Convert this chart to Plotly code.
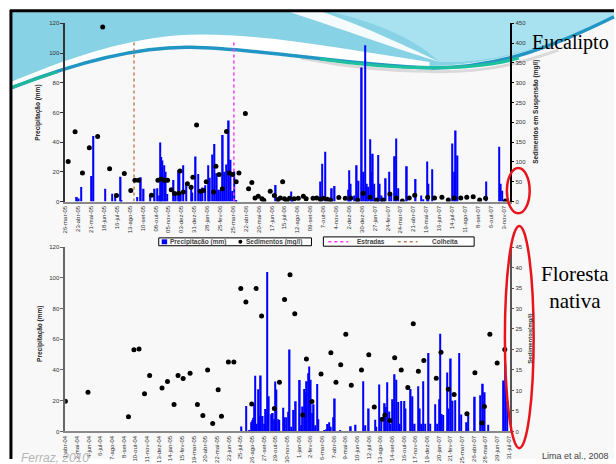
import pandas as pd
import plotly.graph_objects as go

W, H = 616, 464

# ---------------- DATA ----------------
# Eucalipto (top chart); days counted from 26-mar-2005
top_ref = "2005-03-26"
top_rain_day = [25, 29, 34, 57, 61, 86, 102, 108, 120, 122, 156, 164, 170, 184, 194, 200, 204, 206, 208, 211,
                215, 218, 221, 235, 240, 246, 248, 251, 256, 263, 273, 276, 283, 289, 294, 298, 304, 310, 314, 319,
                324, 329, 333, 337, 342, 346, 350, 355, 359, 362, 367, 371, 457, 462, 491, 494, 554, 558, 565, 579,
                585, 615, 617, 620, 627, 633, 637, 644, 648, 651, 655, 658, 662, 665, 668, 671, 680, 683, 687, 696,
                703, 708, 716, 719, 723, 742, 761, 773, 778, 786, 789, 797, 841, 845, 848, 852, 914, 942, 946, 949]
top_rain_mm = [3.1, 2, 9.7, 17.1, 44.2, 8.6, 5.3, 5.3, 16.7, 1, 3.1, 16.3, 8.6, 4.3, 8.6, 9, 4, 39.8, 30, 27.7,
               24.4, 20, 5, 14.5, 6, 21.1, 21, 5, 24.4, 12, 9.5, 6, 30.3, 18.5, 6, 9.5, 11, 24.4, 16, 31.6,
               38.7, 19, 8, 8, 44.8, 20, 25, 54.5, 28.1, 7, 20.4, 1, 11.2, 2, 6.8, 1, 13.4, 25.5, 33.6, 9,
               10.5, 8, 21.1, 12, 4, 24.4, 14, 90.3, 20, 105.3, 12, 10, 42, 20, 32.1, 12, 31.4, 12, 4, 15.6,
               20, 5, 30.5, 42.4, 9, 23.7, 15.2, 4, 1.5, 27, 12, 21.8, 39.1, 20, 47.9, 31, 13.4, 36.9, 12, 7.3]
top_sed_day = [6, 21, 37, 52, 70, 81, 96, 111, 128, 142, 151, 159, 187, 201, 208, 215, 222, 230, 237, 246,
               249, 256, 265, 273, 277, 285, 293, 300, 306, 322, 327, 334, 341, 350, 356, 363, 371, 377, 391, 398,
               405, 412, 419, 427, 431, 445, 454, 462, 467, 472, 476, 481, 487, 497, 506, 517, 523, 538, 546, 554,
               561, 569, 576, 594, 608, 620, 635, 647, 662, 676, 690, 705, 719, 732, 747, 759, 787, 802, 818, 832,
               845, 859, 872, 886, 900, 913, 956]
top_sed_mgl = [101, 176, 72, 136, 164, 441, 83, 15, 71, 28, 54, 54, 16, 54, 57, 54, 54, 30, 20, 21,
               77, 24, 45, 36, 61, 193, 26, 28, 50, 24, 89, 68, 32, 177, 72, 68, 50, 72, 222, 32,
               48, 9, 13, 7, 3, 26, 15, 5, 9, 50, 7, 1, 8, 7, 8, 13, 7, 8, 9, 6,
               8, 6, 4, 10, 8, 9, 4, 21, 11, 4, 4, 19, 9, 1, 9, 16, 11, 9, 11, 4,
               9, 9, 11, 12, 4, 8, 1]
event_names = ["Estradas", "Colheita"]
event_day = [366, 149]
event_top_mm = [108.5, 108.5]

top_tick_labels = ["26-mar-05", "23-abr-05", "21-mai-05", "18-jun-05", "16-jul-05", "13-ago-05", "10-set-05",
                   "08-out-05", "05-nov-05", "03-dez-05", "31-dez-05", "28-jan-06", "25-fev-06", "25-mar-06",
                   "22-abr-06", "20-mai-06", "17-jun-06", "15-jul-06", "12-ago-06", "09-set-06", "7-out-06",
                   "4-nov-06", "2-dez-06", "30-dez-06", "27-jan-07", "24-fev-07", "24-mar-07", "21-abr-07",
                   "19-mai-07", "16-jun-07", "14-jul-07", "11-ago-07", "8-set-07", "6-out-07", "3-nov-07"]

# Floresta nativa (bottom chart); days counted from 1-abr-2004
bot_ref = "2004-04-01"
bot_rain_day = [483, 496, 504, 511, 513, 515, 518, 521, 525, 529, 532, 536, 541, 545, 550, 554, 558, 565, 569, 572,
                576, 579, 583, 587, 598, 601, 606, 611, 615, 620, 626, 632, 643, 646, 651, 655, 659, 662, 666, 669,
                673, 677, 681, 685, 690, 694, 710, 715, 720, 724, 728, 735, 739, 754, 783, 796, 817, 822, 832, 849,
                853, 860, 867, 876, 879, 883, 888, 891, 898, 903, 908, 912, 917, 921, 930, 933, 947, 952, 958, 967,
                972, 977, 981, 987, 996, 1001, 1014, 1019, 1026, 1028, 1032, 1036, 1047, 1051, 1057, 1062, 1069,
                1080, 1085, 1101, 1104, 1123, 1137, 1145, 1150, 1160, 1202, 1206, 1211]
bot_rain_mm = [3.2, 16.5, 1, 6, 7.3, 9, 18, 36.3, 5, 27.5, 10, 36.5, 10, 5, 14.6, 103.8, 23, 11.2, 12, 8,
               32.5, 27.3, 8, 7.5, 15.4, 9.2, 9.2, 12.8, 53.3, 3, 13.9, 19.6, 33.5, 4, 16.3, 27.7, 25.5, 32.6, 37.9, 42.2,
               33.7, 12, 17.7, 4, 30.9, 8, 1, 1.5, 4.9, 6, 3, 9.2, 21.5, 1, 3.4, 4.3, 32.6, 4, 14.9, 7.7,
               3, 30.5, 7.5, 18.3, 16, 32, 13, 5, 20.9, 37.3, 33.7, 19.2, 5, 19.8, 19.8, 15, 27.7, 23, 5, 29.4,
               15, 5, 32.6, 5, 51.1, 5, 17.7, 5, 20.9, 63.5, 11.3, 10.8, 38.4, 15, 47.5, 20, 20.3,
               51.1, 11, 6, 12.3, 22.6, 23.5, 31.1, 25.6, 4.3, 33.2, 44, 20]
bot_sed_day = [0, 62, 173, 188, 202, 217, 231, 265, 280, 298, 309, 323, 342, 362, 377, 390, 404, 419, 428, 447,
               462, 481, 495, 511, 523, 538, 573, 587, 601, 616, 629, 651, 661, 676, 701, 728, 742, 755, 769, 784,
               812, 832, 847, 869, 876, 890, 903, 921, 939, 954, 968, 983, 1017, 1030, 1050, 1066, 1101, 1123,
               1142, 1149, 1164, 1184, 1205]
bot_sed_mgl = [7.35, 9.6, 3.6, 19.95, 20.1, 9.2, 13.65, 10.6, 12.2, 6.6, 13.65, 12.9, 14.2, 6.6, 3.9, 15, 1.95, 10.2,
               3.7, 16.95, 16.95, 34.9, 31.6, 6.7, 34.9, 28.2, 5.6, 12, 32.2, 38.25, 28.7, 4, 17.7, 7.3, 14, 19.2,
               12, 16.3, 23.7, 11.3, 15, 18.7, 6, 3, 4, 2.7, 18, 15, 10.7, 26.3, 14.7, 17.3, 13, 19.35, 10.3, 9,
               4.3, 14.3, 2.1, 6.1, 23.7, 16.7, 20]

bot_tick_labels = ["1-abr-04", "3-mai-04", "4-jun-04", "6-jul-04", "7-ago-04", "8-set-04", "10-out-04",
                   "11-nov-04", "13-dez-04", "14-jan-05", "15-fev-05", "19-mar-05", "20-abr-05", "22-mai-05",
                   "23-jun-05", "25-jul-05", "26-ago-05", "27-set-05", "29-out-05", "30-nov-05", "1-jan-06",
                   "2-fev-06", "6-mar-06", "7-abr-06", "9-mai-06", "10-jun-06", "12-jul-06", "13-ago-06",
                   "14-set-06", "16-out-06", "17-nov-06", "19-dez-06", "20-jan-07", "21-fev-07", "25-mar-07",
                   "26-abr-07", "28-mai-07", "29-jun-07", "31-jul-07"]

series_names = ["Precipitação (mm)", "Sedimentos (mg/l)"]

assert len(top_rain_day) == len(top_rain_mm)
assert len(top_sed_day) == len(top_sed_mgl)
assert len(bot_rain_day) == len(bot_rain_mm)
assert len(bot_sed_day) == len(bot_sed_mgl)

# ---------------- helpers ----------------
MONTHS = {"jan": 1, "fev": 2, "mar": 3, "abr": 4, "mai": 5, "jun": 6,
          "jul": 7, "ago": 8, "set": 9, "out": 10, "nov": 11, "dez": 12}


def parse_pt(label):
    d, m, y = label.split("-")
    return pd.Timestamp(year=2000 + int(y), month=MONTHS[m], day=int(d))


def to_dates(ref, days):
    return list(pd.Timestamp(ref) + pd.to_timedelta(days, unit="D"))


def X(px):
    return px / W


def Y(py):
    return 1 - py / H


def path(cmds):
    out = []
    for c in cmds:
        if isinstance(c, str):
            out.append(c)
        else:
            out.append(f"{X(c[0]):.5f},{Y(c[1]):.5f}")
    return " ".join(out)


DAY_MS = 86400000
FONT = "Liberation Sans, Arial, sans-serif"
BLUE = "#0000ff"
EV_COLORS = ["#ff33ff", "#c0805a"]

top_rain_x = to_dates(top_ref, top_rain_day)
top_sed_x = to_dates(top_ref, top_sed_day)
bot_rain_x = to_dates(bot_ref, bot_rain_day)
bot_sed_x = to_dates(bot_ref, bot_sed_day)
event_x = to_dates(top_ref, event_day)

fig = go.Figure()

fig.add_trace(go.Bar(x=top_rain_x, y=top_rain_mm, xaxis="x", yaxis="y", width=3.4 * DAY_MS,
                     marker=dict(color=BLUE, line=dict(width=0)), name=series_names[0], showlegend=False))
fig.add_trace(go.Scatter(x=top_sed_x, y=top_sed_mgl, xaxis="x", yaxis="y2", mode="markers",
                         marker=dict(color="black", size=5), name=series_names[1], showlegend=False))
for nm, ex, top, col in zip(event_names, event_x, event_top_mm, EV_COLORS):
    fig.add_trace(go.Scatter(x=[ex, ex], y=[0, top], xaxis="x", yaxis="y", mode="lines",
                             line=dict(color=col, width=1.5, dash="dot"), name=nm, showlegend=False))

fig.add_trace(go.Bar(x=bot_rain_x, y=bot_rain_mm, xaxis="x2", yaxis="y3", width=4.2 * DAY_MS,
                     marker=dict(color=BLUE, line=dict(width=0)), name=series_names[0], showlegend=False))
fig.add_trace(go.Scatter(x=bot_sed_x, y=bot_sed_mgl, xaxis="x2", yaxis="y4", mode="markers",
                         marker=dict(color="black", size=5), name=series_names[1], showlegend=False))

xdom = [X(62.7), X(510.7)]
tick_font = dict(family=FONT, size=6, color="#333")

common_x = dict(type="date", showgrid=False, zeroline=False, showline=True, linecolor="#8a8a8a",
                linewidth=2, ticks="", tickangle=-90, tickfont=tick_font)
common_y = dict(showgrid=False, zeroline=False, showline=True, linewidth=1.5, ticks="outside",
                ticklen=3, tickwidth=1, tickfont=tick_font)

fig.update_layout(
    width=W, height=H, autosize=False,
    margin=dict(l=0, r=0, t=0, b=0),
    paper_bgcolor="white", plot_bgcolor="rgba(0,0,0,0)",
    showlegend=False,
    xaxis=dict(domain=xdom, anchor="y", range=["2005-03-25 12:00", "2007-11-16"],
               tickvals=[parse_pt(t) for t in top_tick_labels], ticktext=top_tick_labels, **common_x),
    yaxis=dict(domain=[Y(202), Y(20.7)], anchor="x", range=[0, 120], tickvals=list(range(0, 121, 20)),
               linecolor="#333", tickcolor="#333", **common_y),
    yaxis2=dict(overlaying="y", side="right", anchor="x", range=[0, 450], tickvals=list(range(0, 451, 50)),
                linecolor="black", tickcolor="black", **common_y),
    xaxis2=dict(domain=xdom, anchor="y3", range=["2004-03-31 12:00", "2007-08-02"],
                tickvals=[parse_pt(t) for t in bot_tick_labels], ticktext=bot_tick_labels, **common_x),
    yaxis3=dict(domain=[Y(436), Y(248.3)], anchor="x2", range=[0, 120], tickvals=list(range(0, 121, 20)),
                linecolor="#666", tickcolor="#666", **common_y),
    yaxis4=dict(overlaying="y3", side="right", anchor="x2", range=[0, 45], tickvals=list(range(0, 46, 5)),
                linecolor="#555", tickcolor="#555", **common_y),
)

# ---------------- slide decoration ----------------
shapes = []
shapes.append(dict(type="rect", xref="paper", yref="paper", x0=X(8), x1=X(616), y0=Y(464), y1=Y(8),
                   fillcolor="#f8f8f8", line=dict(width=0), layer="below"))
shapes.append(dict(type="path", xref="paper", yref="paper", layer="below", line=dict(width=0),
                   fillcolor="#88d2e6",
                   path=path(["M", (9, 9), "L", (616, 9), "L", (616, 14), "C", (560, 40), (500, 64), (430, 64),
                              "C", (350, 64), (260, 46), (190, 45), "C", (140, 44), (80, 60), (9, 84), "Z"])))
shapes.append(dict(type="path", xref="paper", yref="paper", layer="below", line=dict(width=0),
                   fillcolor="#a8e2f0",
                   path=path(["M", (330, 9), "L", (616, 9), "L", (616, 14), "C", (560, 40), (500, 62), (440, 60),
                              "C", (420, 40), (380, 20), (330, 9), "Z"])))
shapes.append(dict(type="path", xref="paper", yref="paper", layer="below", line=dict(width=0),
                   fillcolor="white",
                   path=path(["M", (9, 80), "C", (80, 50), (140, 32), (200, 32), "C", (270, 32), (350, 48),
                              (430, 60), "L", (430, 64), "C", (350, 63), (260, 46), (190, 45),
                              "C", (140, 44), (80, 60), (9, 84), "Z"])))
shapes.append(dict(type="path", xref="paper", yref="paper", layer="below", line=dict(width=0),
                   fillcolor="rgba(255,255,255,0.9)",
                   path=path(["M", (288, 9), "L", (322, 9), "C", (370, 26), (410, 46), (440, 60),
                              "C", (400, 48), (340, 26), (288, 9), "Z"])))
shapes.append(dict(type="path", xref="paper", yref="paper", layer="below",
                   line=dict(color="rgba(0,0,0,0.12)", width=3),
                   path=path(["M", (300, 56), "C", (350, 66), (400, 70), (440, 70), "C", (490, 70), (520, 62),
                              (560, 48)])))
shapes.append(dict(type="path", xref="paper", yref="paper", layer="below",
                   line=dict(color="#2196c4", width=3.5),
                   path=path(["M", (9, 86), "C", (80, 58), (140, 44), (190, 45), "C", (260, 46), (350, 64),
                              (430, 66), "C", (500, 67), (560, 42), (616, 14)])))
shapes.append(dict(type="path", xref="paper", yref="paper", layer="below",
                   line=dict(color="#1fc0a0", width=3),
                   path=path(["M", (320, 57), "C", (360, 63), (400, 66), (430, 66), "C", (470, 66), (500, 62),
                              (520, 56)])))
shapes.append(dict(type="path", xref="paper", yref="paper", layer="below",
                   line=dict(color="#20b89a", width=3),
                   path=path(["M", (9, 86), "C", (25, 80), (40, 75), (55, 70)])))
# slide border
shapes.append(dict(type="line", xref="paper", yref="paper", x0=X(7), x1=X(616), y0=Y(8), y1=Y(8),
                   line=dict(color="black", width=3)))
shapes.append(dict(type="line", xref="paper", yref="paper", x0=X(8), x1=X(8), y0=Y(7), y1=Y(464),
                   line=dict(color="black", width=3)))
# red highlight ellipses
shapes.append(dict(type="circle", xref="paper", yref="paper", x0=X(508), x1=X(531), y0=Y(214), y1=Y(168),
                   line=dict(color="#e8141c", width=2.5)))
shapes.append(dict(type="circle", xref="paper", yref="paper", x0=X(506), x1=X(535), y0=Y(453), y1=Y(227),
                   line=dict(color="#e8141c", width=2.5)))

# legend boxes (drawn as in the original slide)
shapes.append(dict(type="rect", xref="paper", yref="paper", x0=X(157), x1=X(311), y0=Y(247), y1=Y(239),
                   fillcolor="white", line=dict(color="black", width=1)))
shapes.append(dict(type="rect", xref="paper", yref="paper", x0=X(160), x1=X(165.5), y0=Y(245.5), y1=Y(240.5),
                   fillcolor=BLUE, line=dict(width=0)))
shapes.append(dict(type="circle", xref="paper", yref="paper", x0=X(237.3), x1=X(241.3), y0=Y(245), y1=Y(241),
                   fillcolor="black", line=dict(width=0)))
shapes.append(dict(type="rect", xref="paper", yref="paper", x0=X(323), x1=X(475), y0=Y(247.5), y1=Y(238),
                   fillcolor="white", line=dict(color="black", width=1)))
for (a, b), col in zip([(328, 348), (398, 418)], EV_COLORS):
    shapes.append(dict(type="line", xref="paper", yref="paper", x0=X(a), x1=X(b), y0=Y(243), y1=Y(243),
                       line=dict(color=col, width=1.5, dash="dot")))
fig.update_layout(shapes=shapes)

ann = []
leg_font = dict(family=FONT, size=6.5, color="#444")
ann.append(dict(text=f"<b>{series_names[0]}</b>", x=X(166.5), y=Y(243), xanchor="left", font=leg_font))
ann.append(dict(text=f"<b>{series_names[1]}</b>", x=X(242.5), y=Y(243), xanchor="left", font=leg_font))
ann.append(dict(text=f"<b>{event_names[0]}</b>", x=X(355), y=Y(242.5), xanchor="left", font=leg_font))
ann.append(dict(text=f"<b>{event_names[1]}</b>", x=X(430), y=Y(242.5), xanchor="left", font=leg_font))
ann.append(dict(text="<b>Precipitação (mm)</b>", x=X(35), y=Y(112), textangle=-90,
                font=dict(family=FONT, size=6.5, color="#222")))
ann.append(dict(text="<b>Precipitação (mm)</b>", x=X(37), y=Y(337), textangle=-90,
                font=dict(family=FONT, size=6.5, color="#222")))
ann.append(dict(text="<b>Sedimentos em Suspensão (mg/l)</b>", x=X(537), y=Y(111), textangle=-90,
                font=dict(family=FONT, size=6.5, color="#222")))
ann.append(dict(text="<b>Sedimentos(mg/l)</b>", x=X(531), y=Y(342), textangle=-90,
                font=dict(family=FONT, size=6, color="#333")))
ann.append(dict(text="Eucalipto", x=X(612), y=Y(40), xanchor="right", yanchor="middle", borderpad=0,
                font=dict(family="Liberation Serif, serif", size=20, color="black")))
ann.append(dict(text="Floresta<br>nativa", x=X(540), y=Y(289), xanchor="left", yanchor="middle",
                font=dict(family="Liberation Serif, serif", size=21, color="black")))
ann.append(dict(text="<i>Ferraz, 2010</i>", x=X(16), y=Y(463), xanchor="left", yanchor="middle",
                font=dict(family=FONT, size=12, color="#b5b5b5")))
ann.append(dict(text="Lima et al., 2008", x=X(541), y=Y(461), xanchor="left", yanchor="middle",
                font=dict(family=FONT, size=9, color="#444")))
for a in ann:
    a.update(xref="paper", yref="paper", showarrow=False)
    a.setdefault("xanchor", "center")
    a.setdefault("yanchor", "middle")
fig.update_layout(annotations=ann)

fig.write_html("out.html", config={"displayModeBar": False},
               post_script="document.body.style.margin='0';document.body.style.overflow='hidden';")
